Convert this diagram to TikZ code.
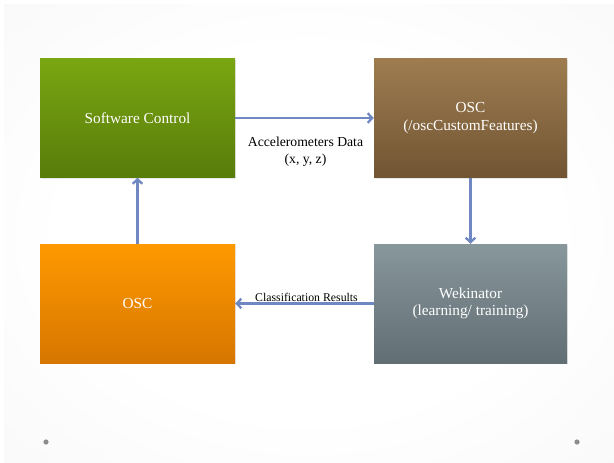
\documentclass[tikz,border=0pt]{standalone}
\usepackage{fontspec}
\setmainfont{Liberation Serif}
\usetikzlibrary{arrows.meta,shadows}
\definecolor{arrowc}{RGB}{112,136,194}
\definecolor{greenT}{RGB}{122,166,18}
\definecolor{greenB}{RGB}{88,124,10}
\definecolor{brownT}{RGB}{158,124,80}
\definecolor{brownB}{RGB}{113,85,51}
\definecolor{orangeT}{RGB}{255,153,0}
\definecolor{orangeB}{RGB}{214,118,0}
\definecolor{grayT}{RGB}{136,151,156}
\definecolor{grayB}{RGB}{97,110,116}
\definecolor{bgmid}{RGB}{244,244,244}
\definecolor{bgedge}{RGB}{220,220,220}
\definecolor{dotc}{RGB}{140,140,140}
\pgfdeclareradialshading{bgshade}{\pgfpoint{0bp}{0bp}}{color(0bp)=(white); color(20bp)=(white); color(50bp)=(bgmid); color(71bp)=(bgedge)}
\begin{document}
\begin{tikzpicture}[x=1pt,y=-1pt,
  box/.style={rectangle, minimum height=119pt, inner sep=0pt, text=white, align=center,
    font=\fontsize{15.3}{17.5}\selectfont,
    drop shadow={shadow xshift=1.2pt, shadow yshift=-1.2pt, opacity=0.18}},
  leftbox/.style={box, minimum width=195pt},
  rightbox/.style={box, minimum width=193pt},
  conn/.style={draw=arrowc, line width=2.3pt, -{Straight Barb[length=4.5pt,width=9.5pt]}},
  lbl/.style={text=black, align=center, inner sep=0pt}]
\useasboundingbox (0,0) rectangle (614,463);
\fill[white] (0,0) rectangle (614,463);
\shade[shading=bgshade] (4,4) rectangle (614,463);

\node[leftbox, top color=greenT, bottom color=greenB] (sc) at (137.5,118) {Software Control};
\node[rightbox, top color=brownT, bottom color=brownB] (osc1) at (470.5,118) {OSC\\(/oscCustomFeatures)};
\node[leftbox, top color=orangeT, bottom color=orangeB] (osc2) at (137.5,303.5) {OSC};
\node[rightbox, top color=grayT, bottom color=grayB] (wek) at (470.5,303.5) {Wekinator\\(learning/ training)};

\draw[conn] (sc.east) -- (osc1.west);
\draw[conn] (osc1.south) -- (wek.north);
\draw[conn] (wek.west) -- (osc2.east);
\draw[conn] (osc2.north) -- (sc.south);

\node[lbl, font=\fontsize{13.7}{17}\selectfont] (acc) at (305.5,151.5) {Accelerometers Data\\(x, y, z)};
\node[lbl, font=\fontsize{11.8}{14}\selectfont] (cls) at (306.5,297) {Classification Results};

\fill[dotc] (46,442) circle (2.6pt);
\fill[dotc] (577,442) circle (2.6pt);
\end{tikzpicture}
\end{document}
